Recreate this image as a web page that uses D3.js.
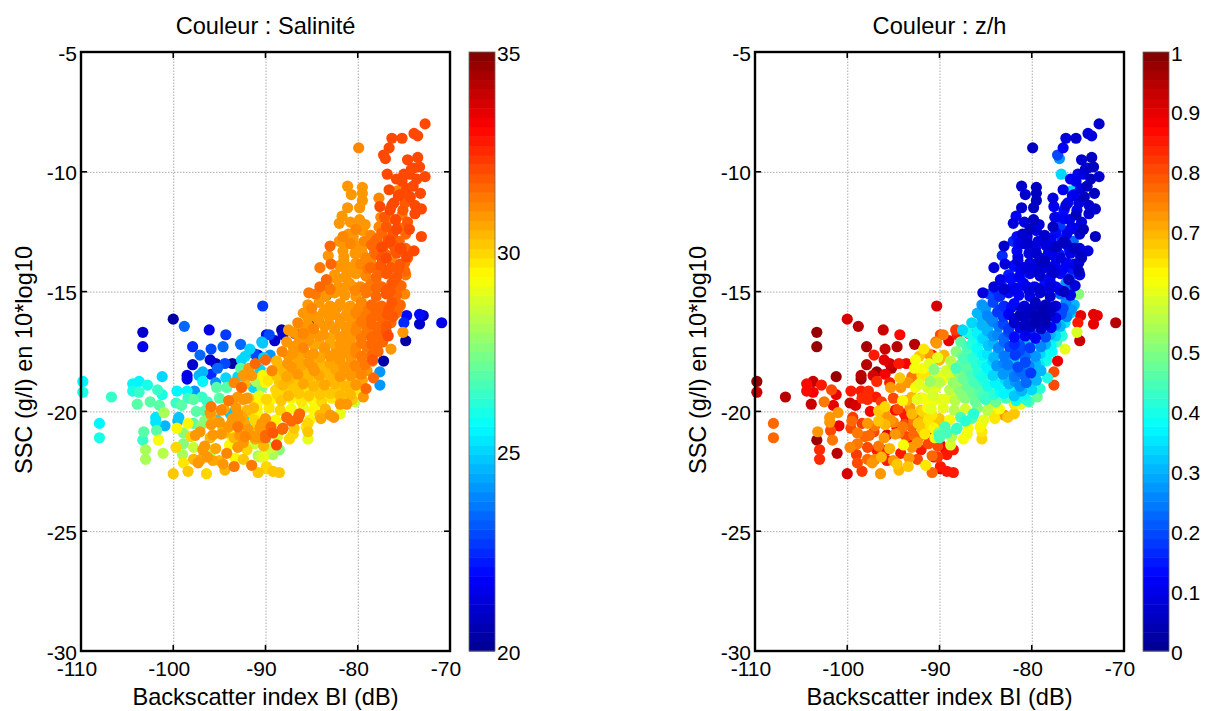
<!DOCTYPE html>
<html>
<head>
<meta charset="utf-8">
<script src="https://cdn.jsdelivr.net/npm/d3@7"></script>
<style>
  html, body { margin: 0; background: #fff; }
  svg { display: block; }
  svg text { font-family: "Liberation Sans", Arial, sans-serif; fill: #000; }
  .grid line { stroke: #a8a8a8; stroke-dasharray: 1.5 1.5; }
  .grid path { display: none; }
</style>
</head>
<body>
<svg id="chart" width="1208" height="711"></svg>
<script>
/* values: backscatter (dB), SSC, salinity, z/h */

/* upper arm of the cloud */
const upperBi = [
  -72.7,-73.9,-73.5,-75.2,-76.3,-76.6,-79.9,-77.2,-77.0,-73.5,
  -74.6,-73.3,-76.8,-74.0,-75.0,-74.4,-72.7,-75.8,-81.1,-79.5,
  -80.7,-79.5,-74.0,-76.6,-75.7,-74.3,-75.4,-77.7,-79.5,-81.1,
  -79.8,-77.6,-76.3,-73.1,-73.8,-75.2,-81.7,-82.0,-80.8,-79.8,
  -77.5,-76.5,-74.4,-77.7,-79.5,-78.6,-75.8,-73.1,-81.6,-80.5,
  -82.0,-83.0,-78.1,-76.5,-75.4,-73.9,-83.2,-81.6,-80.3,-79.5,
  -77.4,-82.9,-78.6,-74.9,-84.1,-76.2,-81.9,-80.5,-74.9,-77.6,
  -79.2,-83.4,-82.3,-81.2,-76.0,-84.1,-85.3,-80.5,-78.0,-76.5,
  -74.9,-82.0,-79.0,-83.0,
  -74.2,-73.6,-75.2,-74.7,-73.2,-75.6,-74.9,-76.1,-73.8,-75.1,
  -76.5,-77.1,-75.9,-74.6,-76.9,-75.4,-77.4,-76.2,-74.8,-77.9,
  -76.7,-75.5,-78.4,-77.2,-76,-74.8,-78.2,-77,-75.9,-74.6,
  -81,-80.2,-79.2,-81.4,-80.4,-79.3,-81.5,-80.2,-79,-77.9];
const upperSsc = [
  -8.0,-8.4,-8.5,-8.6,-8.6,-9.0,-9.0,-9.3,-9.45,-9.4,
  -9.5,-9.8,-10.1,-9.85,-10.1,-10.1,-10.2,-10.3,-10.6,-10.65,
  -10.95,-10.9,-10.6,-10.75,-10.8,-11.05,-10.95,-11.1,-11.2,-11.5,
  -11.5,-11.45,-11.4,-11.55,-11.75,-11.8,-11.85,-12.15,-12.1,-12.0,
  -11.9,-11.95,-12.4,-12.3,-12.45,-12.65,-12.4,-12.7,-12.7,-12.7,
  -12.9,-13.1,-12.9,-12.9,-13.2,-13.3,-13.5,-13.3,-13.1,-13.4,
  -13.6,-13.85,-13.75,-13.8,-14.0,-13.8,-13.95,-14.0,-14.15,-14.2,
  -14.25,-14.5,-14.45,-14.3,-14.5,-14.8,-15.05,-14.8,-14.6,-15.0,
  -15.1,-14.9,-15.0,-14.9,
  -9.9,-10.3,-10.4,-10.7,-10.9,-11,-11.3,-11.3,-11.4,-11.6,
  -11.6,-11.9,-12,-12.1,-12.3,-12.35,-12.55,-12.6,-12.6,-12.8,
  -12.85,-12.9,-13.1,-13.1,-13.15,-13.2,-13.4,-13.45,-13.3,-13.6,
  -12.6,-12.4,-12.2,-13,-13,-12.9,-13.7,-13.8,-13.75,-14];
const upperSal = [
  32,32,32,32,32,32,31.2,32,32,32,
  32,32,32,32,32,32,32,32,31,31,
  31,31,32,32,31.2,32,32,31.2,31,31,
  31,32,32,32,32,31.3,31,31,31,31,
  31.2,31.2,32,31.2,31,31.2,32,32,31.2,31,
  31,31.5,31.5,32,32,32,31,31,30.8,30.8,
  31.8,31.5,31.2,31.5,31.3,31.2,31,30.8,31.5,31.4,
  31,31.5,31,31,31.8,31.5,31.4,30.8,31.2,31.8,
  31.2,30.8,30.8,31.4,
  32,32,32,32,32,32,31.9,32,32,31.8,
  32,31.8,32,31.8,31.9,31.7,31.6,31.9,31.7,31.6,
  31.9,31.7,31.5,31.7,31.9,31.7,31.4,31.7,31.9,31.6,
  31,31.1,31,31,30.9,31.2,31,30.9,31.1,31.4];
const upperZh = [
  .07,.08,.08,.07,.09,.12,.05,.2,.27,.05,
  .07,.05,.33,.08,.1,.1,.07,.12,.07,.06,
  .07,.06,.05,.1,.33,.05,.1,.08,.06,.07,
  .06,.1,.09,.07,.07,.06,.11,.08,.08,.06,
  .1,.12,.06,.06,.08,.07,.1,.06,.13,.08,
  .16,.07,.1,.06,.05,.08,.17,.12,.08,.07,
  .1,.08,.06,.07,.08,.12,.17,.08,.05,.07,
  .07,.1,.14,.16,.05,.08,.08,.1,.1,.06,
  .5,.1,.08,.07,
  .07,.06,.1,.08,.06,.12,.09,.14,.07,.11,
  .13,.16,.1,.08,.18,.12,.14,.1,.07,.1,
  .16,.22,.08,.12,.14,.08,.1,.15,.2,.07,
  .07,.06,.08,.1,.07,.09,.09,.08,.06,.08];

/* dense core of the cloud, rough bands from -13 down to -19.5 */
const coreBi = [
  -80.8,-79.6,-78.5,-77.4,-76.3,-75.3,
  -81.5,-80.3,-79.1,-78,-76.9,-75.8,-74.7,
  -81.9,-80.9,-79.7,-78.6,-77.5,-76.4,-75.4,
  -82.5,-81.4,-80.2,-79.1,-78,-76.9,-75.8,-74.8,
  -83.3,-82.1,-80.9,-79.7,-78.6,-77.4,-76.3,-75.3,
  -84.6,-83.5,-82.5,-81.4,-80.2,-79.1,-78,-76.9,-75.8,
  -85.4,-84.2,-83,-81.9,-80.8,-79.6,-78.5,-77.4,-76.3,-75.4,
  -85.9,-84.8,-83.7,-82.5,-81.3,-80.2,-79.1,-78,-76.8,-75.8,
  -86.5,-85.4,-84.2,-83.1,-81.9,-80.8,-79.6,-78.5,-77.4,-76.4,
  -87,-85.9,-84.8,-83.7,-82.5,-81.4,-80.2,-79.1,-78,-76.9,
  -87.7,-86.5,-85.4,-84.2,-83,-81.9,-80.8,-79.6,-78.5,-77.3,
  -88.2,-87,-85.9,-84.8,-83.6,-82.5,-81.3,-80.2,-79.1,-77.8,
  -88.8,-87.6,-86.4,-85.3,-84.2,-83,-81.9,-80.7,-79.6,-78.4,
  -89.3,-88,-86.9,-85.8,-84.7,-83.5,-82.4,-81.2,-80.1,-79,
  -89.7,-88.5,-87.4,-86.3,-85.2,-84,-82.9,-81.8,-80.6,-79.5,
  -88.9,-87.8,-86.7,-85.6,-84.5,-83.4,-82.3,-81.1,-80,
  -89.4,-88.3,-87.2,-86.1,-85,-83.9,-82.8,-81.7,-80.6];
const coreSsc = [
  -13.0,-13.2,-13.05,-13.15,-13.0,-13.2,
  -13.55,-13.4,-13.6,-13.45,-13.6,-13.4,-13.55,
  -13.9,-14.0,-13.85,-14.0,-13.9,-14.0,-13.85,
  -14.3,-14.4,-14.25,-14.35,-14.4,-14.25,-14.4,-14.3,
  -14.7,-14.8,-14.65,-14.8,-14.7,-14.8,-14.65,-14.75,
  -15.1,-15.2,-15.05,-15.15,-15.2,-15.05,-15.2,-15.1,-15.15,
  -15.55,-15.45,-15.6,-15.5,-15.6,-15.45,-15.55,-15.6,-15.45,-15.55,
  -15.9,-16.0,-15.85,-15.95,-16.0,-15.9,-16.0,-15.85,-15.95,-15.9,
  -16.3,-16.4,-16.25,-16.35,-16.3,-16.4,-16.25,-16.35,-16.4,-16.3,
  -16.7,-16.75,-16.65,-16.8,-16.7,-16.8,-16.65,-16.75,-16.8,-16.7,
  -17.1,-17.2,-17.05,-17.15,-17.1,-17.2,-17.05,-17.15,-17.2,-17.1,
  -17.5,-17.55,-17.45,-17.6,-17.5,-17.6,-17.45,-17.55,-17.6,-17.5,
  -17.9,-18.0,-17.85,-17.95,-17.9,-18.0,-17.85,-17.95,-18.0,-17.9,
  -18.3,-18.35,-18.25,-18.4,-18.3,-18.4,-18.25,-18.35,-18.4,-18.3,
  -18.7,-18.8,-18.65,-18.75,-18.7,-18.8,-18.65,-18.75,-18.8,-18.7,
  -19.1,-19.15,-19.05,-19.2,-19.1,-19.2,-19.05,-19.15,-19.1,
  -19.5,-19.55,-19.45,-19.6,-19.5,-19.6,-19.45,-19.55,-19.5];
const coreSal = [
  31.2,31,31.6,32,31.8,32,
  31,31,31.2,31.7,32,31.8,32,
  30.9,31,31.2,31.6,31.8,31.9,31.8,
  31,31,30.8,31.2,31.5,31.8,31.9,31.4,
  31,30.8,30.9,31.1,31.4,31.7,31.8,31.5,
  31.3,31,30.8,30.9,31,31.3,31.6,31.8,31.5,
  31,31,30.8,30.9,31,31.2,31.5,31.7,31.8,31.5,
  30.8,31,30.9,30.8,31,31.1,31.4,31.6,31.8,31.4,
  31.2,30.8,30.9,30.8,31,31,31.3,31.6,31.5,31.6,
  30.9,31.1,31,30.8,30.7,31,31.1,31.3,31.5,31.8,
  31,30.8,31,30.7,30.7,30.9,31,31.3,31.5,31.6,
  31.2,31,30.7,30.9,30.6,30.8,31,31.1,31.2,31.6,
  30.5,31,30.6,30.8,30.4,30.7,30.8,31,31.1,31.3,
  31.2,30.4,30.6,30.5,30.8,30.4,30.6,30.7,30.9,31,
  29.8,30.2,30.4,30.3,30.2,30.5,30.4,30.3,30.5,30.7,
  29.9,30,29.8,29.7,30,29.9,30.2,30,29.8,
  29.6,30.2,29.6,29.8,29.5,29.9,29.7,29.8,30.2];
const coreZh = [
  .09,.1,.08,.06,.07,.1,
  .11,.08,.1,.12,.08,.1,.06,
  .13,.1,.08,.09,.11,.14,.1,
  .15,.12,.1,.08,.1,.13,.2,.1,
  .18,.14,.12,.1,.13,.12,.28,.08,
  .2,.17,.14,.12,.1,.09,.07,.22,.1,
  .27,.2,.16,.13,.08,.06,.05,.1,.25,.3,
  .3,.25,.18,.12,.06,.05,.04,.05,.2,.32,
  .33,.3,.26,.2,.07,.05,.04,.06,.26,.35,
  .4,.36,.3,.26,.2,.22,.15,.24,.3,.4,
  .46,.42,.36,.3,.22,.17,.3,.33,.3,.45,
  .5,.46,.4,.35,.3,.26,.2,.27,.34,.38,
  .55,.48,.44,.4,.34,.26,.32,.2,.3,.4,
  .58,.5,.46,.42,.38,.35,.27,.22,.18,.3,
  .62,.52,.48,.44,.42,.36,.33,.28,.22,.3,
  .56,.5,.48,.46,.44,.38,.36,.3,.33,
  .6,.55,.5,.47,.43,.48,.45,.38,.42];

/* second pass over the core, between the first bands */
const fillBi = [
  -81.2,-80,-78.9,-77.8,-76.7,-75.6,
  -83.9,-82.7,-81.5,-80.3,-79.2,-78,-76.9,-75.8,
  -85,-83.4,-82.2,-81.1,-79.9,-78.8,-77.7,-76.6,-75.7,
  -85.4,-84.3,-83.1,-81.9,-80.7,-79.6,-78.5,-77.4,-76.2,
  -85.9,-84.8,-83.6,-82.5,-81.3,-80.1,-79,-77.9,-76.9,
  -86.4,-85.3,-84.2,-83,-81.9,-80.7,-79.6,-78.5,-77.4,
  -87,-85.9,-84.7,-83.6,-82.4,-81.3,-80.2,-79,-77.9,
  -87.5,-86.4,-85.3,-84.1,-83,-81.8,-80.7,-79.6,-78.4,
  -88.4,-87.2,-86,-84.9,-83.8,-82.6,-81.5,-80.3,-79.2,
  -88.8,-87.7,-86.5,-85.4,-84.2,-83.1,-81.9,-80.8,-79.6,
  -88.1,-87,-85.9,-84.8,-83.6,-82.5,-81.3,-80.2,
  -88.7,-87.5,-86.4,-85.3,-84.1,-83,-81.9,-80.8];
const fillSsc = [
  -14.1,-14.15,-14.05,-14.15,-14.1,-14.05,
  -14.9,-14.95,-14.85,-14.95,-14.9,-14.85,-14.95,-14.9,
  -15.7,-15.75,-15.65,-15.75,-15.7,-15.75,-15.65,-15.7,-15.75,
  -16.1,-16.15,-16.05,-16.15,-16.1,-16.05,-16.15,-16.1,-16.05,
  -16.5,-16.55,-16.45,-16.55,-16.5,-16.45,-16.55,-16.5,-16.45,
  -16.9,-16.95,-16.85,-16.95,-16.9,-16.85,-16.95,-16.9,-16.85,
  -17.3,-17.35,-17.25,-17.35,-17.3,-17.25,-17.35,-17.3,-17.25,
  -17.7,-17.75,-17.65,-17.75,-17.7,-17.65,-17.75,-17.7,-17.65,
  -18.1,-18.15,-18.05,-18.15,-18.1,-18.05,-18.15,-18.1,-18.05,
  -18.5,-18.55,-18.45,-18.55,-18.5,-18.45,-18.55,-18.5,-18.45,
  -18.9,-18.95,-18.85,-18.95,-18.9,-18.85,-18.95,-18.9,
  -19.3,-19.35,-19.25,-19.35,-19.3,-19.25,-19.35,-19.3];
const fillSal = [
  31,31,31.3,31.6,31.8,31.9,
  31,30.9,31,31.1,31.4,31.6,31.8,31.6,
  31.2,30.9,30.8,31,31.1,31.3,31.6,31.8,31.5,
  30.8,31,30.8,30.9,31,31.2,31.5,31.7,31.8,
  30.9,31.1,30.8,30.8,31,31.1,31.4,31.6,31.8,
  31,30.8,31,30.7,30.9,31,31.3,31.5,31.7,
  31,31.1,30.7,30.9,30.7,31,31.1,31.4,31.7,
  30.9,30.6,31,30.7,30.8,30.9,31,31.3,31.5,
  30.4,31,30.6,30.8,30.5,30.7,30.9,31.1,31.3,
  30.2,30.6,30.8,30.5,30.7,30.5,30.8,30.9,31.1,
  30.4,30.3,30.6,30.4,30.6,30.4,30.5,30.8,
  30,30.4,30.2,30.3,30.1,30.3,30.4,30.5];
const fillZh = [
  .1,.08,.09,.07,.11,.15,
  .16,.14,.11,.09,.07,.08,.1,.22,
  .28,.18,.13,.07,.05,.04,.07,.2,.28,
  .3,.26,.18,.08,.05,.04,.04,.1,.26,
  .36,.3,.24,.18,.1,.06,.05,.12,.3,
  .4,.34,.28,.22,.14,.1,.12,.2,.33,
  .44,.38,.32,.26,.2,.2,.18,.25,.36,
  .48,.42,.36,.3,.24,.18,.22,.28,.38,
  .55,.46,.42,.36,.28,.24,.2,.26,.35,
  .58,.5,.45,.4,.34,.28,.24,.22,.33,
  .55,.48,.44,.4,.36,.3,.25,.35,
  .6,.52,.48,.44,.42,.36,.32,.38];

/* lower band, between -18 and -21 */
const lowBi = [
  -94.5,-93.2,-92,-90.9,-89.6,-88.4,-87.2,-85.9,-84.8,-83.5,
  -93.6,-92.5,-91.2,-90,-88.9,-87.7,-86.5,-85.2,-84,-82.6,
  -94.6,-93,-91.9,-90.6,-89.4,-88.2,-86.9,-85.6,
  -93.4,-92.4,-91.1,-90,-88.7,-87.4,
  -93,-91.8,-90.7,-93.4,-92.2,-91,-90,-91.8,-90.6,
  -97.8,-96.3,-95,-93.6,-92,-90.8,
  -97.5,-96,-94.8,-93,-91.8,
  -98.4,-97,-95,-93.8,-92.3,-91,
  -97.6,-96,-94.8,-93.6,-92.8,-91.6,-90.5,
  -97.8,-96.6,-95.4,-93,-92,-90.2,-89.4,
  -97,-96.3,-95,-93.3,-92.4,-90.2,
  -97.2,-95.9,-93,-91.9,-92.2,-91.2,-90.2,-89.5];
const lowSsc = [
  -19.9,-19.85,-19.95,-19.9,-19.85,-19.95,-19.9,-19.85,-19.95,-19.9,
  -20.3,-20.25,-20.35,-20.3,-20.35,-20.25,-20.3,-20.35,-20.3,-20.25,
  -20.7,-20.65,-20.75,-20.7,-20.65,-20.75,-20.7,-20.65,
  -21.1,-21.05,-21.15,-21.1,-21.05,-21.15,
  -19.4,-19.45,-19.35,-18.8,-18.85,-18.75,-18.8,-18.2,-18.25,
  -19.5,-19.6,-19.45,-19.55,-19.45,-19.6,
  -20,-20.05,-19.95,-20.1,-20,
  -20.5,-20.6,-20.45,-20.55,-20.5,-20.6,
  -21,-21.1,-20.95,-21.05,-21,-20.95,-21.1,
  -21.5,-21.45,-21.55,-21.5,-21.6,-21.45,-21.55,
  -22,-21.9,-22.05,-21.95,-22,-21.9,
  -18.5,-18.45,-18.55,-18.5,-17.7,-17.6,-17.75,-17.65];
const lowSal = [
  30.6,31,30.5,29.5,29.8,30,29.3,29,29.5,30.5,
  31,30.7,30,30.8,29.5,31.6,31.7,29.5,30.7,30.8,
  30.5,31.3,30.8,31,31.6,31.7,30.2,29.8,
  30.5,31,30.6,31.7,28.8,30,
  31,30.2,29,31.2,30.5,28,29.5,31,25,
  27,26.5,26.8,30.8,31,29.5,
  26.8,31,31.2,31,30,
  29.5,27.5,31,30.5,30.7,30,
  30.8,30.5,30.8,29.5,31,30.2,31,
  28.5,31,30.6,31,30,30.5,28.5,
  30.6,30.8,30.5,29.5,30.3,29,
  24.5,22.5,25,27,25,23,25,24];
const lowZh = [
  .8,.72,.68,.6,.6,.55,.58,.5,.55,.62,
  .85,.75,.65,.68,.62,.45,.47,.6,.65,.68,
  .88,.78,.68,.64,.44,.45,.62,.64,
  .88,.82,.9,.45,.55,.62,
  .7,.62,.58,.72,.6,.52,.56,.62,.5,
  .83,.82,.8,.7,.68,.62,
  .88,.72,.86,.7,.66,
  .82,.75,.74,.8,.68,.65,
  .78,.72,.72,.8,.78,.65,.62,
  .8,.76,.7,.72,.85,.8,.88,
  .74,.7,.73,.72,.8,.82,
  .92,.88,.75,.65,.68,.72,.6,.7];

/* single points around the right and lower edges */
const edgeBi = [
  -70.9,-72.9,-73.3,-73.3,-74.7,-75,-74.8,-75.1,-76.4,-77.2,
  -77.6,-77.6,-78.3,-79.1,-79.4,-76.7,-75.4,-78.4,
  -88.25,-89.6,-88.1,-89,-86.8,-90.3,-85.2,-85.5,-87.5,-83.4,
  -88.8,-89.9,-89.2,-88.5,-90.6,-89.9,-89.2,-88.5,-87,-85.4,
  -85.4,-85.4,-86.4,-90,-89.2,-88.1,-87.2,-86.3,-81.9,-83,
  -84.1,-80.3,-81.2,-81.9,-84.6,-90.2,-89.9,-88.2,-87.3,-90];
const edgeSsc = [
  -16.3,-16,-15.95,-16.35,-16,-16.3,-17.05,-16.7,-17.4,-17.9,
  -18.35,-18.9,-18.6,-19.05,-19.4,-16.85,-15.6,-17.85,
  -16.6,-16.8,-16.8,-17.05,-16.75,-17.15,-16.2,-16.45,-16.6,-15.15,
  -21.4,-21.4,-21.8,-21.6,-21.9,-22.3,-22.5,-22.55,-20.95,-20.5,
  -20.85,-21.15,-20.2,-21,-20.9,-20.7,-20.4,-20.1,-20.1,-20.15,
  -20.15,-19.6,-19.7,-19.7,-19.75,-18.55,-19.5,-18.2,-17.8,-17.85];
const edgeSal = [
  21.5,20.8,22,21,22,22.5,20.3,31,30.8,20.3,
  24,24,31.5,31.5,31,32,31,31.8,
  20.3,23,21,21,21,24.8,21,23,31,20.3,
  32,27.3,28,27.5,28.5,30,30.3,30.2,30,30,
  30.3,29,31.7,31.7,31.8,31.7,31.7,31.6,29,31,
  30.5,28.5,31,30.8,29,29,30,30.3,30.3,31.5];
const edgeZh = [
  .95,.9,.9,.9,.9,.85,.93,.58,.6,.9,
  .8,.8,.4,.42,.47,.42,.55,.5,
  .82,.75,.85,.9,.88,.72,.82,.85,.33,.95,
  .58,.9,.85,.85,.9,.85,.85,.85,.62,.63,
  .65,.66,.44,.45,.44,.43,.42,.42,.68,.72,
  .65,.45,.6,.65,.58,.6,.6,.45,.45,.7];

/* left part of the cloud, x below -90 */
const leftBi = [
  -109.8,-109.8,-106.7,-108,-108,-103.3,-103.3,-100,-98.8,-96.1,
  -94.3,-92.7,-90.3,-97.9,-95.9,-94.6,-97.1,-97.9,-96,-95.4,
  -94.4,-93.6,-98.5,-98.5,-96.8,-95.2,-101.2,-103.7,-104.4,-102.8,
  -104.4,-103.7,-101.7,-101.2,-99.6,-98.5,-97.7,-96.8,-96.9,-98.4,
  -103.9,-102.5,-101.5,-99.7,-99.1,-101,-101.9,-101.9,-100.9,-101.8,
  -99.4,-99.5,-103.2,-103.3,-103,-103,-101.1,-101.6,-99.7,-99,
  -100,-98.9,-98.4,-97.8,-97.3,-96.4,-95.7,-94.4,-94.6,-93.4,
  -91.5,-90.8,-89.9,-90.8,-93.9,-94.2,-95.7,-96.8,-97.1,-95.7,
  -97.8,-98.9,-98.9,-98.1,-99.6,-96.6,-96.6,-95.9,-95.3,-95.9,
  -95.9,-93.8,-94,-94.2,-95.3,-95.4,-94.3,-92.6,-92.7,-91.7,
  -91.1,-90.3,-92.4,-91.5,-92.6,-90.4,-89.9,-90.8,-91.3,-90.4,
  -92.4,-92.8,-91.9,-90.8,-90.4,-91.3,-91.2,-92.4,-91.2,-90.1,
  -94,-94.4,-92.2];
const leftSsc = [
  -18.75,-19.2,-19.4,-20.5,-21.1,-16.7,-17.3,-16.15,-16.45,-16.6,
  -16.8,-17.2,-15.6,-17.3,-17.4,-17.3,-17.65,-18.05,-17.85,-18,
  -18,-18,-18.5,-18.65,-18.35,-18.2,-18.55,-18.75,-18.85,-18.9,
  -19.15,-19.2,-19.1,-19.3,-19.15,-19.15,-19.15,-18.75,-19.4,-19.45,
  -19.7,-19.6,-19.75,-19.65,-19.75,-20.05,-20.25,-20.45,-20.6,-20.8,
  -20.25,-20.4,-20.85,-21.2,-21.6,-22,-21.75,-21.2,-21.5,-21.8,
  -22.6,-22.15,-22.5,-22,-22.15,-22.6,-22.05,-22.45,-22.2,-22.3,
  -22.25,-22.55,-22.4,-21.85,-21.4,-21.75,-21.6,-21.6,-20.85,-20.98,
  -20.5,-20.9,-21.35,-21.05,-20.7,-19.98,-20.4,-19.8,-20.35,-20.15,
  -20.55,-20.1,-19.55,-19,-19,-18.8,-18.6,-17.85,-18.2,-17.4,
  -18,-18.5,-18.5,-18.5,-19,-17.1,-16.8,-17.65,-19,-19,
  -19.5,-20.35,-20.4,-20.15,-20.5,-19.85,-21.05,-21.3,-21.35,-20.9,
  -20.65,-20.9,-21.05];
const leftSal = [
  25.5,26,26.5,25.5,26,21,21.5,20.3,23.5,21.5,
  22.7,23.5,22.7,22.5,23,23.5,23.5,21,21,20.5,
  23,20.3,21.5,21.5,24.5,23.5,25,25.5,25.5,26,
  26,26.5,26.5,26,25.5,25.5,24,25.5,26.5,26.5,
  26.8,27,27,26.5,27,28,25.3,25.3,24.5,26.8,
  24.7,24.5,27,26.5,28,28.2,28.3,29.2,30,28,
  30.3,29.7,30.3,30.5,30.8,30,30.6,30.4,31,31.3,
  31.3,30.3,30,28,29.5,31.2,28,30.8,31,30.8,
  27,27.5,27.7,30,29.5,27,27.5,31.3,25,30.7,
  31,24.7,31.3,27,27,24,25,25,27,25,
  31.5,29.5,31,31,31.5,24.5,22,22,25,27.5,
  31,31,25.5,29.3,30.8,30.5,31,30.8,28.5,31,
  31,30.5,31.2];
const leftZh = [
  .97,.93,.95,.78,.77,.97,.97,.92,.95,.93,
  .87,.95,.92,.96,.93,.95,.85,.95,.9,.92,
  .85,.88,.95,.97,.97,.95,.97,.93,.87,.85,
  .87,.88,.8,.9,.85,.85,.84,.84,.85,.83,
  .93,.75,.9,.93,.92,.72,.73,.72,.9,.8,
  .82,.78,.72,.97,.83,.84,.95,.75,.74,.82,
  .92,.8,.82,.78,.72,.72,.85,.7,.68,.68,
  .65,.78,.9,.78,.62,.85,.85,.85,.8,.9,
  .73,.75,.75,.78,.8,.68,.68,.66,.72,.72,
  .7,.85,.63,.72,.72,.85,.68,.62,.62,.65,
  .6,.6,.75,.65,.62,.75,.8,.85,.58,.6,
  .6,.75,.7,.65,.7,.62,.85,.72,.8,.5,
  .75,.75,.78];

const xTicks = [-110, -100, -90, -80, -70];
const yTicks = [-5, -10, -15, -20, -25, -30];
const salTicks = [20, 25, 30, 35];
const zhTicks = [0, 0.1, 0.2, 0.3, 0.4, 0.5, 0.6, 0.7, 0.8, 0.9, 1];

const bi = [...upperBi, ...coreBi, ...fillBi, ...lowBi, ...edgeBi, ...leftBi];
const ssc = [...upperSsc, ...coreSsc, ...fillSsc, ...lowSsc, ...edgeSsc, ...leftSsc];
const salinity = [...upperSal, ...coreSal, ...fillSal, ...lowSal, ...edgeSal, ...leftSal];
const zOverH = [...upperZh, ...coreZh, ...fillZh, ...lowZh, ...edgeZh, ...leftZh];

const points = bi.map((b, i) => ({ bi: b, ssc: ssc[i], sal: salinity[i], zh: zOverH[i] }));

/* Matlab-like jet, 64 flat steps */
const jetRamp = d3.scaleLinear()
  .domain([0, 1 / 8, 3 / 8, 5 / 8, 7 / 8, 1])
  .range(['#00008f', '#0000ff', '#00ffff', '#ffff00', '#ff0000', '#800000']);
const jet = t => jetRamp((Math.min(63, Math.floor(t * 64)) + 0.5) / 64);

const svg = d3.select('#chart');
const plotTop = 52, plotBottom = 651;

function drawPanel(opts) {
  const { left, right, barLeft, title, key, domain, ticks } = opts;
  const g = svg.append('g');
  const x = d3.scaleLinear().domain([-110, -70]).range([left, right]);
  const y = d3.scaleLinear().domain([-5, -30]).range([plotTop, plotBottom]);
  const norm = d3.scaleLinear().domain(domain).clamp(true);

  /* grid */
  g.append('g').attr('class', 'grid')
    .attr('transform', `translate(0,${plotBottom})`)
    .call(d3.axisBottom(x).tickValues(xTicks.slice(1, -1)).tickSize(plotTop - plotBottom).tickFormat(''));
  g.append('g').attr('class', 'grid')
    .attr('transform', `translate(${left},0)`)
    .call(d3.axisLeft(y).tickValues(yTicks.slice(1, -1)).tickSize(left - right).tickFormat(''));

  /* points: salinity low to high, z/h high to low */
  const sorted = points.slice().sort((a, b) =>
    key === 'sal' ? a.sal - b.sal : b.zh - a.zh);
  g.append('g').selectAll('circle')
    .data(sorted)
    .join('circle')
    .attr('cx', d => x(d.bi))
    .attr('cy', d => y(d.ssc))
    .attr('r', 5.6)
    .attr('fill', d => jet(norm(d[key])));

  /* box and inward ticks */
  g.append('rect')
    .attr('x', left).attr('y', plotTop)
    .attr('width', right - left).attr('height', plotBottom - plotTop)
    .attr('fill', 'none').attr('stroke', '#000').attr('stroke-width', 2.4);
  const tickLines = [
    ...xTicks.map(v => [x(v), plotBottom, x(v), plotBottom - 6]),
    ...xTicks.map(v => [x(v), plotTop, x(v), plotTop + 6]),
    ...yTicks.map(v => [left, y(v), left + 6, y(v)]),
    ...yTicks.map(v => [right, y(v), right - 6, y(v)])
  ];
  g.append('g').selectAll('line')
    .data(tickLines)
    .join('line')
    .attr('x1', d => d[0]).attr('y1', d => d[1])
    .attr('x2', d => d[2]).attr('y2', d => d[3])
    .attr('stroke', '#000').attr('stroke-width', 1.6);

  /* tick labels */
  g.append('g').selectAll('text')
    .data(xTicks)
    .join('text')
    .attr('x', d => x(d) - 4).attr('y', plotBottom + 25)
    .attr('text-anchor', 'middle').attr('font-size', 21)
    .text(d => d);
  g.append('g').selectAll('text')
    .data(yTicks)
    .join('text')
    .attr('x', left - 4).attr('y', d => y(d) + 8.5)
    .attr('text-anchor', 'end').attr('font-size', 21)
    .text(d => d);

  /* titles */
  g.append('text')
    .attr('x', (left + right) / 2).attr('y', 34)
    .attr('text-anchor', 'middle').attr('font-size', 23.6)
    .text(title);
  g.append('text')
    .attr('x', (left + right) / 2).attr('y', 705)
    .attr('text-anchor', 'middle').attr('font-size', 23.6)
    .text('Backscatter index BI (dB)');
  g.append('text')
    .attr('transform', `translate(${left - 49},360) rotate(-90)`)
    .attr('text-anchor', 'middle').attr('font-size', 23.6)
    .text('SSC (g/l) en 10*log10');

  /* colour bar */
  const barW = 26;
  const bar = d3.scaleLinear().domain(domain).range([plotBottom, plotTop]);
  g.append('g').selectAll('rect')
    .data(d3.range(64))
    .join('rect')
    .attr('x', barLeft).attr('width', barW)
    .attr('y', i => plotBottom - (i + 1) * (plotBottom - plotTop) / 64)
    .attr('height', (plotBottom - plotTop) / 64 + 0.5)
    .attr('fill', i => jet((i + 0.5) / 64));
  g.append('rect')
    .attr('x', barLeft).attr('y', plotTop)
    .attr('width', barW).attr('height', plotBottom - plotTop)
    .attr('fill', 'none').attr('stroke', '#666').attr('stroke-width', 0.8);
  g.append('g').selectAll('text')
    .data(ticks)
    .join('text')
    .attr('x', barLeft + barW + 2).attr('y', d => bar(d) + 8.5)
    .attr('font-size', 21)
    .text(d => d);
}

drawPanel({ left: 81, right: 450, barLeft: 469, title: 'Couleur : Salinité',
  key: 'sal', domain: [20, 35], ticks: salTicks });
drawPanel({ left: 755, right: 1124, barLeft: 1143, title: 'Couleur : z/h',
  key: 'zh', domain: [0, 1], ticks: zhTicks });
</script>
</body>
</html>
